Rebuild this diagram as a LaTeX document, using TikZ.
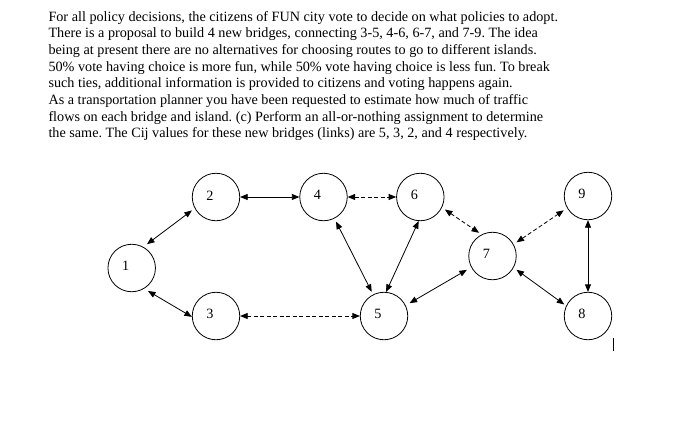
\documentclass[tikz,border=0pt]{standalone}
\usepackage{fontspec}
\setmainfont{Liberation Serif}
\usetikzlibrary{arrows.meta}
\frenchspacing
\begin{document}
\begin{tikzpicture}[x=1pt,y=-1pt,
  txt/.style={anchor=base west,inner sep=0pt,font=\fontsize{14.2}{16.7}\selectfont},
  nd/.style={circle,draw,line width=0.8pt,minimum size=47.5pt,inner sep=0pt},
  lbl/.style={font=\fontsize{14.2}{16.7}\selectfont,inner sep=0pt,xshift=-6pt,yshift=1.7pt},
  link/.style={line width=0.8pt,{Triangle[length=7.5pt,width=6pt]}-{Triangle[length=7.5pt,width=6pt]}},
  dlink/.style={link,dash pattern=on 4pt off 2.5pt}]
\fill[white] (0,0) rectangle (696,426);
\useasboundingbox (0,0) rectangle (696,426);

\node[txt] (t1) at (48.3,21.0) {For all policy decisions, the citizens of FUN city vote to decide on what policies to adopt.};
\node[txt] (t2) at (48.3,37.7) {There is a proposal to build 4 new bridges, connecting 3-5, 4-6, 6-7, and 7-9. The idea};
\node[txt] (t3) at (48.3,54.4) {being at present there are no alternatives for choosing routes to go to different islands.};
\node[txt] (t4) at (48.3,71.1) {50\% vote having choice is more fun, while 50\% vote having choice is less fun. To break};
\node[txt] (t5) at (48.3,87.8) {such ties, additional information is provided to citizens and voting happens again.};
\node[txt] (t6) at (48.3,104.5) {As a transportation planner you have been requested to estimate how much of traffic};
\node[txt] (t7) at (48.3,121.2) {flows on each bridge and island. (c) Perform an all-or-nothing assignment to determine};
\node[txt] (t8) at (48.3,137.9) {the same. The Cij values for these new bridges (links) are 5, 3, 2, and 4 respectively.};

\node[nd,label={[lbl]center:1}] (n1) at (131.7,268) {};
\node[nd,label={[lbl]center:2}] (n2) at (216,197) {};
\node[nd,label={[lbl]center:3}] (n3) at (216,316) {};
\node[nd,label={[lbl]center:4}] (n4) at (323.5,197) {};
\node[nd,label={[lbl]center:5}] (n5) at (384,316) {};
\node[nd,label={[lbl]center:6}] (n6) at (420.3,197) {};
\node[nd,label={[lbl]center:7}] (n7) at (492.5,256) {};
\node[nd,label={[lbl]center:8}] (n8) at (588,316) {};
\node[nd,label={[lbl]center:9}] (n9) at (588,196) {};

\draw[link,shorten <=4.5pt,shorten >=3.5pt] (n1.61) -- (n2.208);
\draw[link,shorten <=4.5pt] (n1.-59) -- (n3.182);
\draw[link] (n2.0) -- (n4.180);
\draw[dlink] (n4.0) -- (n6.180);
\draw[link,shorten <=3.5pt,shorten >=3pt] (n4.-63) -- (n5.117);
\draw[link] (n6.-94) -- (n5.85);
\draw[dlink] (n3.0) -- (n5.180);
\draw[link,shorten <=4.5pt,shorten >=5pt] (n5.26) -- (n7.208);
\draw[dlink,shorten <=3.5pt,shorten >=3pt] (n6.-26) -- (n7.117);
\draw[dlink,shorten <=3.5pt,shorten >=4pt] (n7.29) -- (n9.210);
\draw[link,shorten <=3.5pt,shorten >=2.3pt] (n7.-29) -- (n8.155);
\draw[link] (n9.-90) -- (n8.90);

\coordinate (c1) at (613,338);
\coordinate (c2) at (613,351);
\draw[line width=0.8pt] (c1) -- (c2);
\end{tikzpicture}
\end{document}
